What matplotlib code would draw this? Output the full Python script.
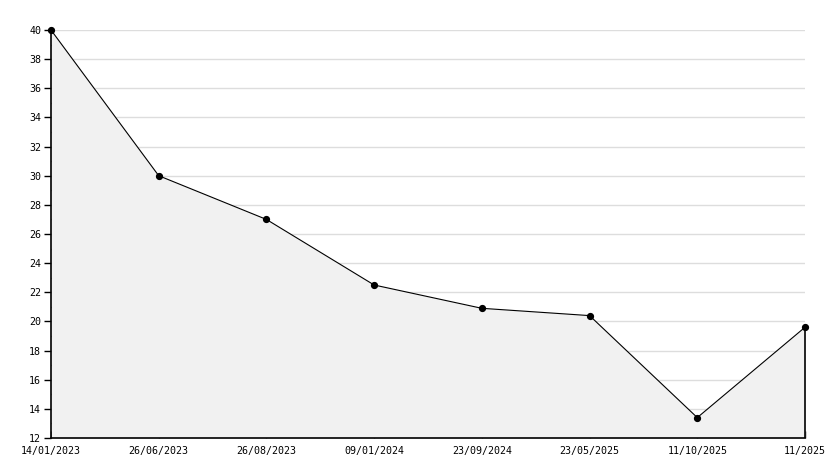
import matplotlib
matplotlib.use('Agg')
import matplotlib.pyplot as plt
from matplotlib.ticker import MultipleLocator
import numpy as np

# values
dates = ['14/01/2023', '26/06/2023', '26/08/2023', '09/01/2024',
         '23/09/2024', '23/05/2025', '11/10/2025', '11/2025']
values = [40, 30, 27, 22.5, 20.9, 20.4, 13.4, 19.6]
y_min, y_max = 12, 40

plt.rcParams['font.family'] = 'DejaVu Sans Mono'

fig = plt.figure(figsize=(8.34, 4.68), dpi=100)
ax = fig.add_axes([51 / 834, 30 / 468, 754 / 834, 408 / 468])

x = np.arange(len(values))

ax.fill_between(x, y_min, values, color='#f1f1f1', zorder=2, linewidth=0)
ax.plot(x, values, color='black', lw=0.8, marker='o', ms=4.2, zorder=6, clip_on=False)
ax.vlines(x[-1], y_min, values[-1], color='black', lw=1.2, zorder=6, clip_on=False)

ax.set_xlim(x[0], x[-1])
ax.set_ylim(y_min, y_max)
ax.set_xticks(x)
ax.set_xticklabels(dates, fontsize=7.2)
ax.yaxis.set_major_locator(MultipleLocator(2))
ax.yaxis.set_minor_locator(MultipleLocator(1))
ax.tick_params(axis='y', which='major', direction='out', length=5, width=1, labelsize=7.2, pad=2)
ax.tick_params(axis='y', which='minor', direction='in', length=3, width=1)
ax.tick_params(axis='x', which='major', direction='in', length=5, width=1, pad=6)

ax.grid(axis='y', color='#dddddd', lw=1, zorder=1)
ax.set_axisbelow(True)
for s in ['top', 'right']:
    ax.spines[s].set_visible(False)
for s in ['left', 'bottom']:
    ax.spines[s].set_linewidth(1.2)
    ax.spines[s].set_zorder(5)

# the lowest tick label sits a little above the axis line in the reference
ax.get_yticklabels()[0].set_va('bottom')

fig.savefig('out.png', dpi=100)
